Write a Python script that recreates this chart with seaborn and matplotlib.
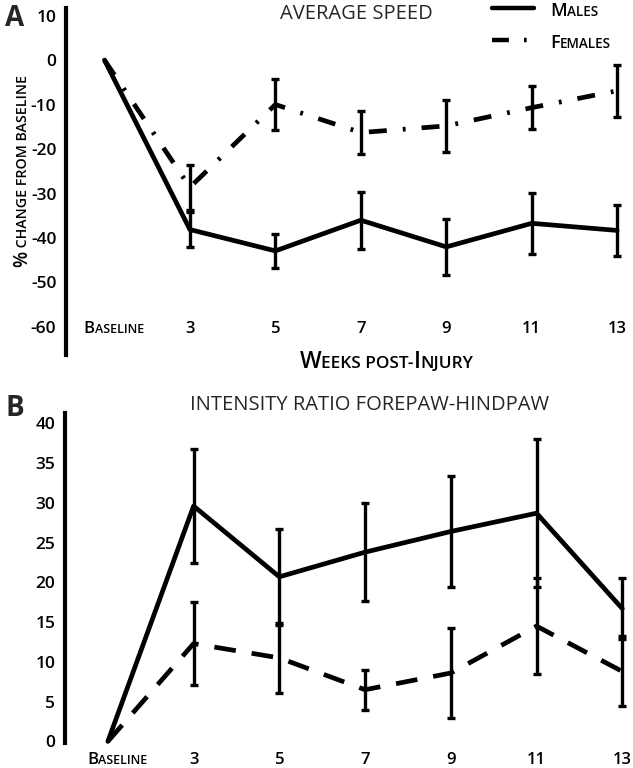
import matplotlib
matplotlib.use('Agg')
import matplotlib.pyplot as plt
import seaborn as sns
import pandas as pd
from matplotlib.transforms import offset_copy, blended_transform_factory
from matplotlib.lines import Line2D

# Data
week_labels = ['Baseline', '3', '5', '7', '9', '11', '13']
week_x = [1, 3, 5, 7, 9, 11, 13]

# A: average speed, % change from baseline
speed_male = [0, -38.1, -42.9, -36.0, -42.0, -36.7, -38.3]
speed_male_err = [0, 3.9, 3.8, 6.4, 6.3, 6.8, 5.8]
speed_female = [0, -28.6, -10.0, -16.3, -14.8, -10.7, -6.9]
speed_female_err = [0, 5.0, 5.7, 4.9, 5.9, 4.8, 5.8]

# B: intensity ratio forepaw-hindpaw
ratio_male = [0, 29.6, 20.7, 23.8, 26.4, 28.7, 16.7]
ratio_male_err = [0, 7.2, 6.0, 6.2, 7.0, 9.3, 3.8]
ratio_female = [0, 12.3, 10.5, 6.5, 8.6, 14.5, 8.8]
ratio_female_err = [0, 5.2, 4.4, 2.5, 5.7, 6.0, 4.4]

sns.set_theme(style='white')
plt.rcParams['font.family'] = ['Open Sans', 'DejaVu Sans']
plt.rcParams['axes.unicode_minus'] = False

W, H = 633, 768
fig = plt.figure(figsize=(W / 100, H / 100), dpi=100)
axA = fig.add_axes([66 / W, 1 - 355 / H, (630 - 66) / W, (355 - 8) / H])
axB = fig.add_axes([65 / W, 1 - 743 / H, (633 - 65) / W, (743 - 413) / H])


def caps_text(x, y, s, size, transform, rotation=0, ha='center', small=0.75, weight='semibold'):
    # fake small caps: capitals/digits full size, lower case drawn as smaller capitals
    renderer = fig.canvas.get_renderer()
    groups = []
    for ch in s:
        big = ch.isupper() or ch.isdigit() or ch == '%'
        fs = size if big else size * small
        if groups and groups[-1][1] == fs:
            groups[-1][0] += ch.upper()
        else:
            groups.append([ch.upper(), fs])
    cap = 0.72 * size * fig.dpi / 72
    texts, starts, pos = [], [], 0
    for txt, fs in groups:
        t = fig.text(x, y, txt, fontsize=fs, transform=transform, rotation=rotation,
                     rotation_mode='anchor', ha='left', va='baseline', weight=weight, color='black')
        bb = t.get_window_extent(renderer)
        starts.append(pos)
        pos += bb.height if rotation == 90 else bb.width
        texts.append(t)
    shift = -pos / 2 if ha == 'center' else 0
    for t, p in zip(texts, starts):
        if rotation == 90:
            t.set_transform(offset_copy(transform, fig=fig, x=cap / 2, y=p + shift, units='dots'))
        else:
            t.set_transform(offset_copy(transform, fig=fig, x=p + shift, y=-cap / 2, units='dots'))
    return texts


def style_axis(ax):
    for side in ['top', 'right', 'bottom']:
        ax.spines[side].set_visible(False)
    ax.spines['left'].set_linewidth(3)
    ax.spines['left'].set_color('black')
    ax.set_xticks([])
    ax.tick_params(axis='y', length=0, pad=7, labelsize=12.5, colors='black')
    for lab in ax.get_yticklabels():
        lab.set_fontweight('semibold')
    ax.set_xlabel('')
    ax.set_ylabel('')


# Panel A
df_speed = pd.DataFrame({'week': week_x * 2,
                         'value': speed_male + speed_female,
                         'sex': ['Males'] * 7 + ['Females'] * 7})
sns.lineplot(data=df_speed, x='week', y='value', style='sex',
             dashes={'Males': '', 'Females': (3.8, 3.4, 0.6, 3.4)},
             color='black', lw=3.4, errorbar=None, legend=False, ax=axA, clip_on=False)
axA.errorbar(week_x[1:], speed_male[1:], yerr=speed_male_err[1:], fmt='none', ecolor='black',
             elinewidth=2.4, capsize=3, capthick=2.4, clip_on=False)
axA.errorbar(week_x[1:], speed_female[1:], yerr=speed_female_err[1:], fmt='none', ecolor='black',
             elinewidth=2.4, capsize=3, capthick=2.4, clip_on=False)
axA.set_xlim(0.1, 13.3)
axA.set_ylim(-66.3, 11.7)
axA.set_yticks(range(-60, 11, 10))
style_axis(axA)

# Panel B
df_ratio = pd.DataFrame({'week': week_x * 2,
                         'value': ratio_male + ratio_female,
                         'sex': ['Males'] * 7 + ['Females'] * 7})
sns.lineplot(data=df_ratio, x='week', y='value', style='sex',
             dashes={'Males': '', 'Females': (4.6, 3.4)},
             color='black', lw=3.4, errorbar=None, legend=False, ax=axB, clip_on=False)
axB.errorbar(week_x[1:], ratio_male[1:], yerr=ratio_male_err[1:], fmt='none', ecolor='black',
             elinewidth=2.4, capsize=3, capthick=2.4, clip_on=False)
axB.errorbar(week_x[1:], ratio_female[1:], yerr=ratio_female_err[1:], fmt='none', ecolor='black',
             elinewidth=2.4, capsize=3, capthick=2.4, clip_on=False)
axB.set_xlim(0, 13.25)
axB.set_ylim(-0.2, 41.3)
axB.set_yticks(range(0, 41, 5))
style_axis(axB)

# x labels drawn as text so "Baseline" can be in small caps
label_x = [1.22] + week_x[1:]
for xv, lab in zip(label_x, week_labels):
    caps_text(xv, -60, lab, 12, axA.transData)
    caps_text(xv, -0.045, lab, 12, blended_transform_factory(axB.transData, axB.transAxes))

caps_text(7.6, -67.3, 'Weeks post-Injury', 16.5, axA.transData)
caps_text(20 / W, 1 - 171 / H, '% change from baseline', 13.5, fig.transFigure, rotation=90)

fig.text(356 / W, 1 - 14 / H, 'AVERAGE SPEED', fontsize=14.5, ha='center', va='center')
fig.text(370 / W, 1 - 405 / H, 'INTENSITY RATIO FOREPAW-HINDPAW', fontsize=14.5, ha='center', va='center')
fig.text(15 / W, 1 - 18 / H, 'A', fontsize=20, weight='bold', ha='center', va='center')
fig.text(15 / W, 1 - 408 / H, 'B', fontsize=20, weight='bold', ha='center', va='center')

# legend, then swap its labels for small-caps text
handles = [Line2D([], [], color='black', lw=3.2),
           Line2D([], [], color='black', lw=3.2, dashes=(3.8, 3.4, 0.6, 3.4))]
leg = axA.legend(handles, ['MALES', 'FEMALES'], loc='upper left', bbox_to_anchor=(492 / W, 1 - 2 / H),
                 bbox_transform=fig.transFigure, frameon=False, fontsize=12, handlelength=2.5,
                 handletextpad=1.0, labelspacing=0.95, borderpad=0, borderaxespad=0)
fig.canvas.draw()
renderer = fig.canvas.get_renderer()
for t, name in zip(leg.get_texts(), ['Males', 'Females']):
    bb = t.get_window_extent(renderer)
    t.set_alpha(0)
    xy = fig.transFigure.inverted().transform(((bb.x0, (bb.y0 + bb.y1) / 2),))[0]
    caps_text(xy[0], xy[1], name, 13, fig.transFigure, ha='left')

fig.savefig('out.png', dpi=100)
